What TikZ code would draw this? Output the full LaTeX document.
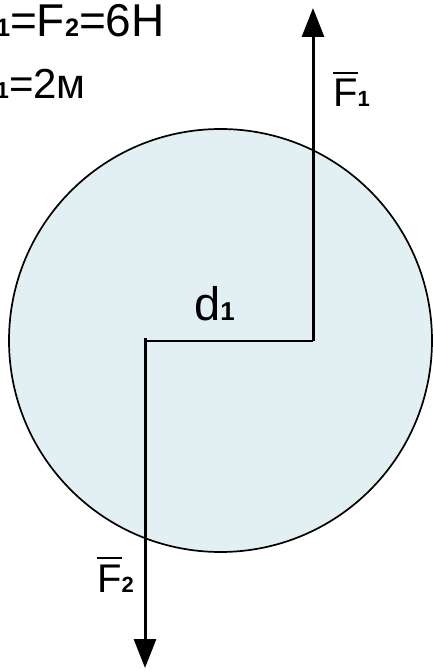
\documentclass[tikz,border=0pt]{standalone}
\usepackage{fontspec}
\setmainfont{Liberation Sans}
\usepackage{tikz}
\usetikzlibrary{arrows.meta}
\definecolor{DiskFill}{HTML}{E2F0F3}
\newcommand{\sub}[1]{{\fontsize{0.55em}{0.55em}\selectfont\bfseries #1}}
\newcommand{\barF}{\rlap{\rule[0.82em]{0.62em}{0.06em}}F}

\begin{document}
\begin{tikzpicture}[x=1pt,y=-1pt,
disk/.style={circle,draw=black,line width=1.7pt,fill=DiskFill,minimum size=423pt,inner sep=0pt},
force/.style={-{Triangle[length=29pt,width=22pt]},line width=3pt},
arm/.style={line width=2pt},
lbl/.style={inner sep=0pt,font=\fontsize{40}{40}\selectfont}
]
\useasboundingbox (0,0) rectangle (433,671);
\node[disk] (disk) at (220.5,340.5) {};
\coordinate (o1) at (313,341);
\coordinate (o2) at (145,341);
\coordinate (o2top) at (145,338);
\coordinate (t1) at (313,8);
\coordinate (t2) at (145,668);
\draw[arm] (o2) -- (o1);
\draw[force] (o1) -- (t1);
\draw[force] (o2top) -- (t2);
\node[lbl,anchor=base west] (f1) at (333,107) {\barF\sub{1}};
\node[lbl,anchor=base west] (f2) at (97,592) {\barF\sub{2}};
\node[lbl,anchor=base west,font=\fontsize{47}{47}\selectfont] (d1) at (194,320) {d\sub{1}};
\node[lbl,anchor=base east,font=\fontsize{46}{46}\selectfont] (given1) at (165,37) {F\sub{1}=F\sub{2}=6Н};
\node[lbl,anchor=base east,font=\fontsize{42}{42}\selectfont] (given2) at (86,99) {d\sub{1}=2м};
\end{tikzpicture}
\end{document}
